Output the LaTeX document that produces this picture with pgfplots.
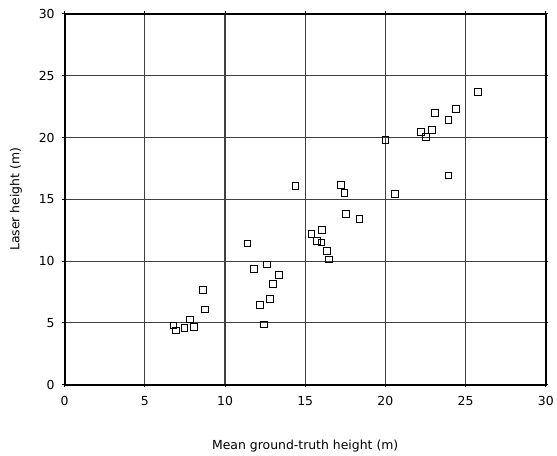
\documentclass[border=0pt]{standalone}
\usepackage{pgfplots}
\pgfplotsset{compat=1.18}
\usepackage{fontspec}
\setmainfont{DejaVu Sans}
\begin{document}
\begin{tikzpicture}
\begin{axis}[
  scale only axis, width=484pt, height=373pt,
  xmin=0, xmax=30, ymin=0, ymax=30,
  xtick={0,5,...,30}, ytick={0,5,...,30},
  grid=major, grid style={draw=black!75, line width=1.1pt},
  axis line style={line width=1.8pt},
  tick style={black, line width=1pt}, tick align=outside, major tick length=2.5pt,
  tick label style={font=\fontsize{12.5}{14}\selectfont},
  /pgf/number format/assume math mode=true,
  xticklabel style={yshift=-6pt}, yticklabel style={xshift=-4pt},
  xlabel={Mean ground-truth height (m)}, ylabel={Laser height (m)},
  label style={font=\fontsize{12.5}{14}\selectfont},
  xlabel style={yshift=-27pt}, ylabel style={yshift=10pt},
]
\addplot[only marks, mark=square, mark size=3.4pt, mark options={line width=1pt, fill=white}, black] table {
x y
6.79 4.79
6.93 4.39
7.47 4.57
7.84 5.27
8.09 4.68
8.62 7.65
8.77 6.08
11.4 11.42
11.81 9.34
12.2 6.48
12.43 4.87
12.6 9.73
12.82 6.96
12.98 8.17
13.35 8.89
14.4 16.1
15.39 12.19
15.74 11.6
16.01 11.5
16.07 12.51
16.38 10.8
16.46 10.14
17.23 16.18
17.45 15.51
17.54 13.8
18.39 13.39
20.0 19.81
20.62 15.41
22.23 20.46
22.54 20.02
22.91 20.62
23.08 22.01
23.93 21.42
24.38 22.31
23.93 16.92
25.79 23.7
};
\end{axis}
\path (current axis.south west) ++(-65pt,-69pt) coordinate (bl);
\path (current axis.north east) ++(8pt,14pt) coordinate (tr);
\path (bl) rectangle (tr);
\end{tikzpicture}
\end{document}
